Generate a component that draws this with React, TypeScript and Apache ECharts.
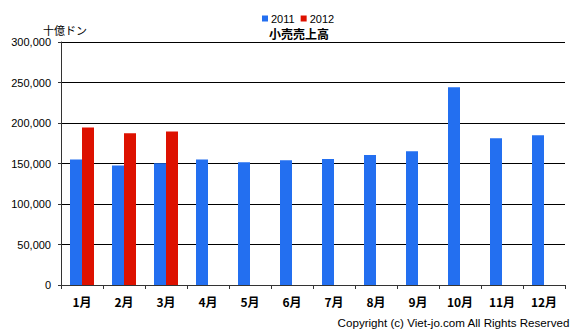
import React, { useEffect, useRef } from "react";
import * as echarts from "echarts";

const months = ["1月", "2月", "3月", "4月", "5月", "6月", "7月", "8月", "9月", "10月", "11月", "12月"];
const sales2011 = [154800, 147400, 150200, 154800, 151500, 154000, 155600, 160500, 165100, 244100, 181100, 184800];
const sales2012 = [194300, 187300, 189400, null, null, null, null, null, null, null, null, null];
const seriesNames = ["2011", "2012"];
const colors = ["#236ff0", "#dd1100"];
const titleText = "小売売上高";
const unitText = "十億ドン";
const copyrightText = "Copyright (c) Viet-jo.com All Rights Reserved";

const numFont = "'Liberation Sans', Arial, 'Noto Sans CJK JP', sans-serif";
const cjkFont = "'Noto Sans CJK JP', 'Liberation Sans', sans-serif";

export default function App() {
  const ref = useRef<HTMLDivElement>(null);
  useEffect(() => {
    if (!ref.current) return;
    const chart = echarts.init(ref.current, null, { renderer: "svg" });
    chart.setOption({
      animation: false,
      backgroundColor: "#ffffff",
      color: colors,
      legend: {
        data: seriesNames,
        left: 257,
        top: 8,
        icon: "rect",
        itemWidth: 6,
        itemHeight: 6,
        itemGap: 6,
        textStyle: { fontFamily: numFont, fontSize: 11, color: "#000", padding: [0, 0, 0, -2] },
      },
      grid: { left: 61, right: 15, top: 42, bottom: 48, containLabel: false },
      xAxis: {
        type: "category",
        data: months,
        boundaryGap: true,
        axisLine: { show: true, lineStyle: { color: "#333", width: 1 } },
        axisTick: { show: true, length: 4, lineStyle: { color: "#333" } },
        axisLabel: {
          fontFamily: cjkFont,
          fontSize: 12,
          fontWeight: "bold",
          color: "#000",
          margin: 10,
        },
      },
      yAxis: {
        type: "value",
        min: 0,
        max: 300000,
        interval: 50000,
        axisLine: { show: true, lineStyle: { color: "#333", width: 1 } },
        axisTick: { show: true, length: 3, lineStyle: { color: "#333" } },
        splitLine: { show: true, lineStyle: { color: "#000", width: 1 } },
        axisLabel: {
          fontFamily: numFont,
          fontSize: 11,
          color: "#000",
          margin: 10,
          formatter: (v: number) => v.toLocaleString("en-US"),
        },
      },
      graphic: [
        {
          type: "text",
          left: 43,
          top: 24,
          style: { text: unitText, font: `11px ${cjkFont}`, fill: "#000" },
        },
        {
          type: "text",
          x: 299,
          y: 33,
          style: {
            text: titleText,
            font: `bold 12px ${cjkFont}`,
            fill: "#000",
            textAlign: "center",
            textVerticalAlign: "middle",
          },
        },
        {
          type: "text",
          right: 10,
          top: 317,
          style: { text: copyrightText, font: `11.6px ${numFont}`, fill: "#000" },
        },
      ],
      series: [
        {
          name: seriesNames[0],
          type: "bar",
          data: sales2011,
          barWidth: 12,
          barGap: "0%",
          itemStyle: { color: colors[0] },
        },
        {
          name: seriesNames[1],
          type: "bar",
          data: sales2012,
          barWidth: 12,
          barGap: "0%",
          itemStyle: { color: colors[1] },
        },
      ],
    });
    return () => chart.dispose();
  }, []);
  return <div ref={ref} style={{ width: 580, height: 333, position: "absolute", left: 0, top: 0 }} />;
}
